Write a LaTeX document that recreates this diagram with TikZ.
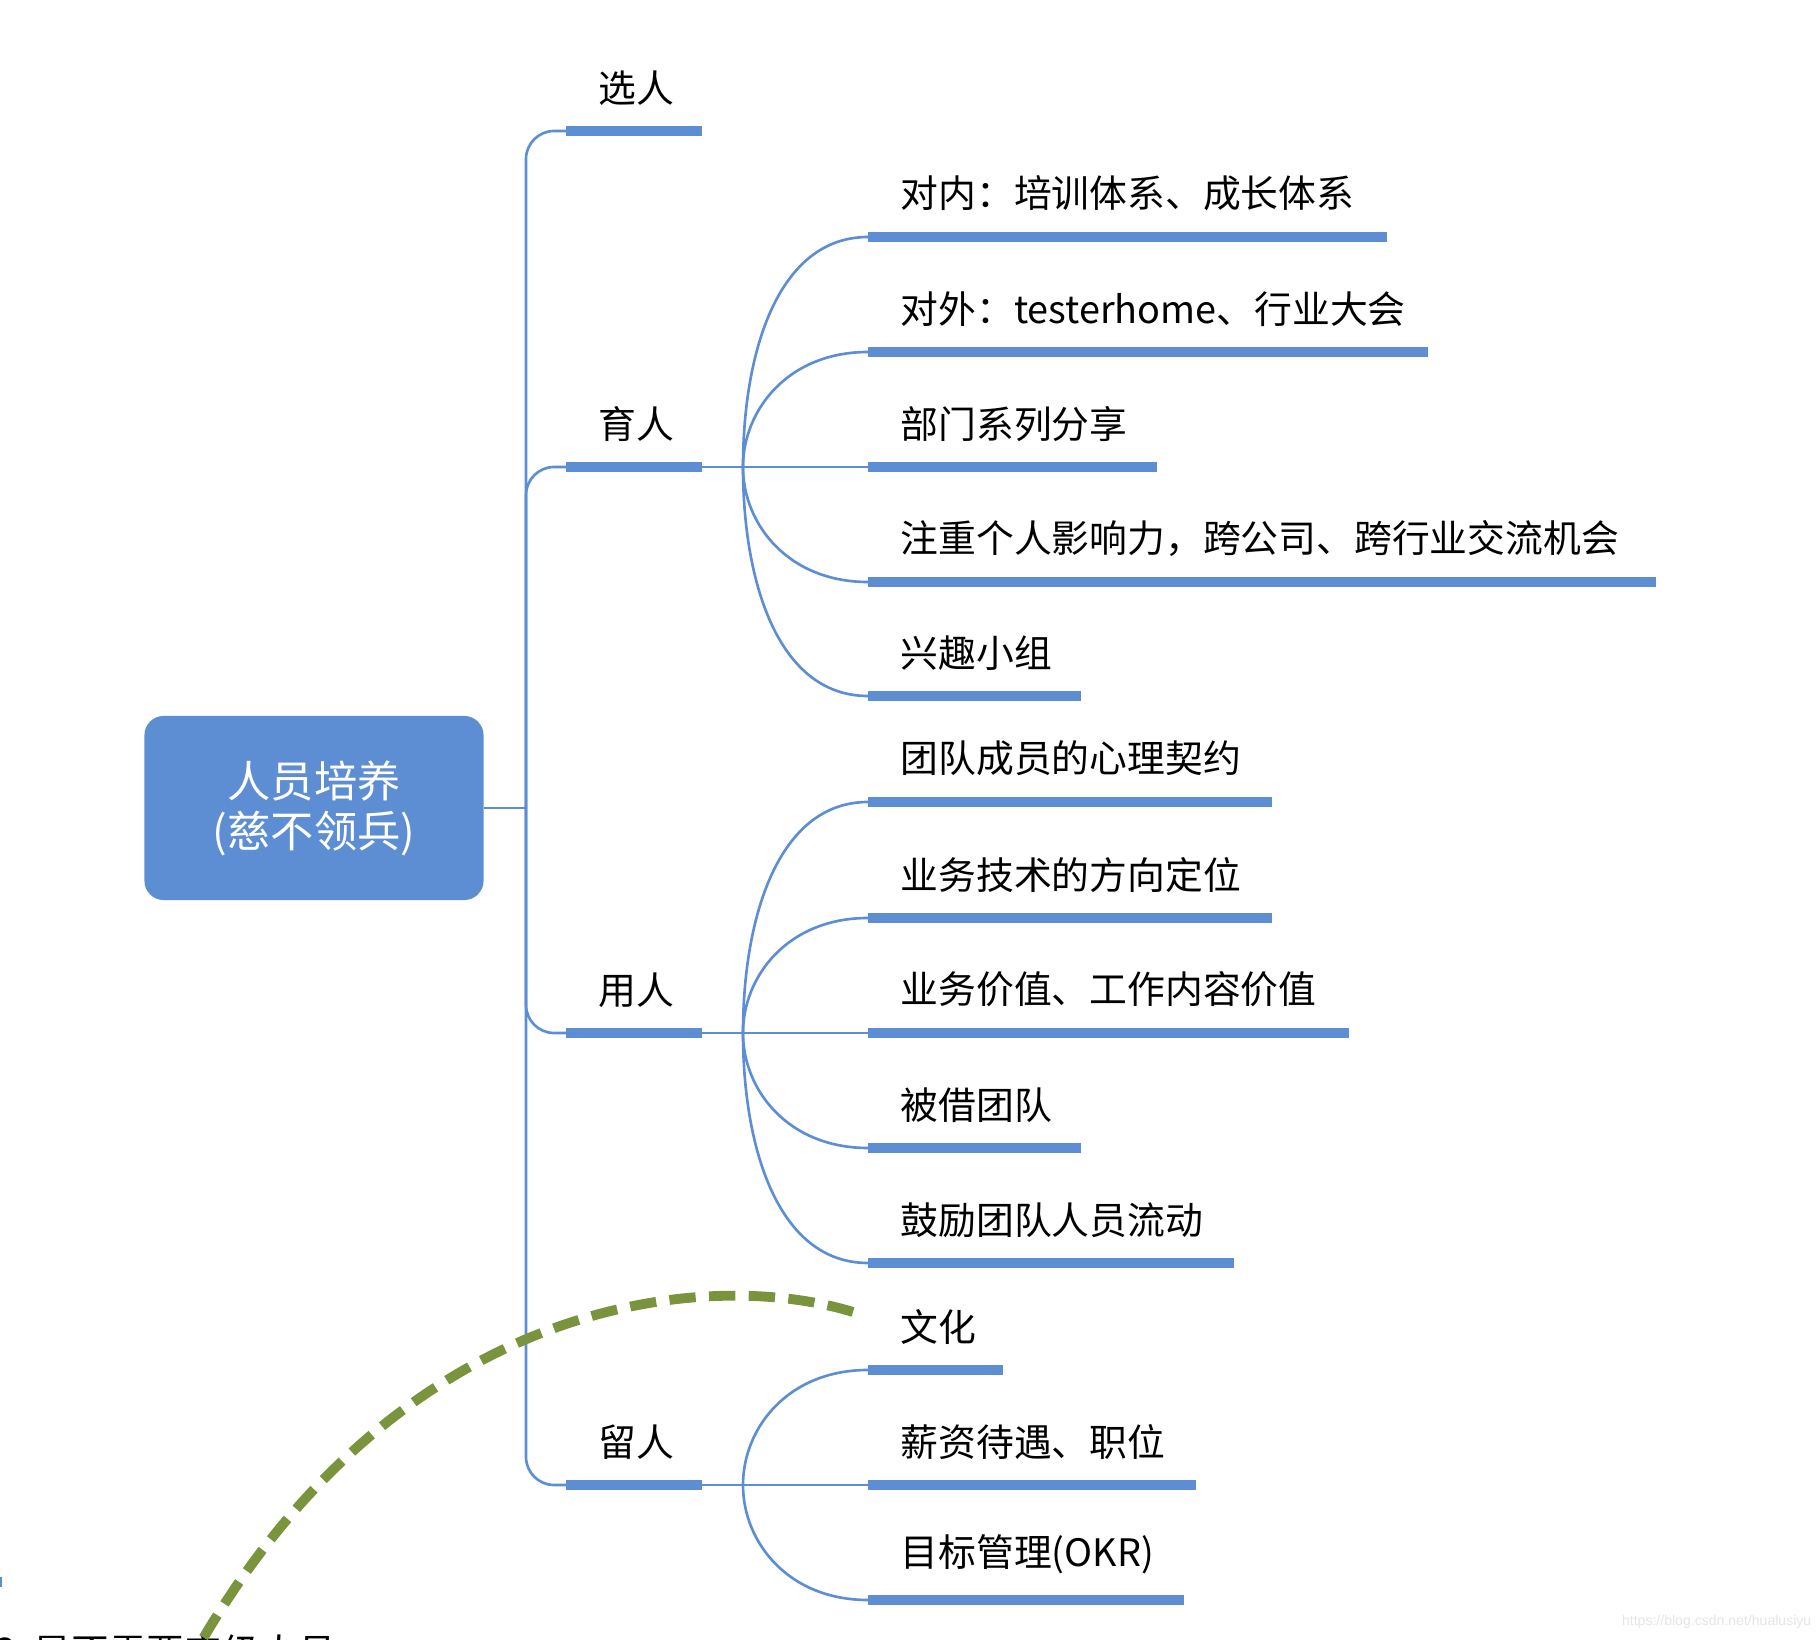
\documentclass[tikz,border=0pt]{standalone}
\usepackage{fontspec}
\setmainfont{Noto Sans CJK SC}
\newfontfamily\wmfont{Liberation Sans}
\usetikzlibrary{positioning,calc}
\definecolor{mapblue}{RGB}{93,142,212}
\definecolor{mapgreen}{RGB}{122,148,62}

\begin{document}
\begin{tikzpicture}[
  x=0.01cm, y=-0.01cm,
  root/.style={rectangle, rounded corners=5.5pt, fill=mapblue, text=white, minimum width=3.39cm, minimum height=1.84cm, align=center, font=\fontsize{12.3pt}{14.2pt}\selectfont},
  topic/.style={inner sep=0pt, font=\fontsize{10.75pt}{13pt}\selectfont},
  leaf/.style={inner sep=0pt, font=\fontsize{10.75pt}{13pt}\selectfont},
  uline/.style={draw=mapblue, line width=2.7pt},
  link/.style={draw=mapblue, line width=0.75pt},
  dashlink/.style={draw=mapgreen, line width=2.8pt, dash pattern=on 7.5pt off 3.8pt}
]
  \useasboundingbox (0,0) rectangle (1820,1640);
  \clip (0,0) rectangle (1820,1640);

  % root and trunk
  \node[root] (root) at (314,808) {人员培养\\(慈不领兵)};
  \coordinate (trunk) at (526,808);
  \draw[link] (root.east) -- (trunk);

  % level 1
  \coordinate (xs) at (566,131);  \coordinate (xe) at (702,131);
  \coordinate (ys) at (566,467);  \coordinate (ye) at (702,467);
  \coordinate (us) at (566,1033); \coordinate (ue) at (702,1033);
  \coordinate (ls) at (566,1485); \coordinate (le) at (702,1485);
  \node[topic, above right=0.25cm and 0.32cm of xs] (xuan) {选人};
  \node[topic, above right=0.25cm and 0.32cm of ys] (yu) {育人};
  \node[topic, above right=0.25cm and 0.32cm of us] (yong) {用人};
  \node[topic, above right=0.25cm and 0.32cm of ls] (liu) {留人};
  \foreach \s/\e in {xs/xe, ys/ye, us/ue, ls/le}
    \draw[uline] (\s) -- (\e);
  \draw[link, rounded corners=8pt] (trunk) |- (xs);
  \draw[link, rounded corners=8pt] (trunk) |- (ys);
  \draw[link, rounded corners=8pt] (trunk) |- (us);
  \draw[link, rounded corners=8pt] (trunk) |- (ls);

  % 育人
  \coordinate (fy) at (743,467);
  \coordinate (a1) at (868,237);  \coordinate (b1) at (1387,237);
  \coordinate (a2) at (868,352);  \coordinate (b2) at (1428,352);
  \coordinate (a3) at (868,467);  \coordinate (b3) at (1157,467);
  \coordinate (a4) at (868,582);  \coordinate (b4) at (1656,582);
  \coordinate (a5) at (868,696);  \coordinate (b5) at (1081,696);
  \node[leaf, above right=0.25cm and 0.32cm of a1] (y1) {对内：培训体系、成长体系};
  \node[leaf, above right=0.25cm and 0.32cm of a2] (y2) {对外：testerhome、行业大会};
  \node[leaf, above right=0.25cm and 0.32cm of a3] (y3) {部门系列分享};
  \node[leaf, above right=0.25cm and 0.32cm of a4] (y4) {注重个人影响力，跨公司、跨行业交流机会};
  \node[leaf, above right=0.25cm and 0.32cm of a5] (y5) {兴趣小组};
  \draw[link] (ye) -- (a3);
  \draw[link] (fy) .. controls +(0,-115) and +(-90,0) .. (a1);
  \draw[link] (fy) .. controls +(0,-57) and +(-80,0) .. (a2);
  \draw[link] (fy) .. controls +(0,57) and +(-80,0) .. (a4);
  \draw[link] (fy) .. controls +(0,115) and +(-90,0) .. (a5);

  % 用人
  \coordinate (fu) at (743,1033);
  \coordinate (c1) at (868,802);  \coordinate (d1) at (1272,802);
  \coordinate (c2) at (868,918);  \coordinate (d2) at (1272,918);
  \coordinate (c3) at (868,1033); \coordinate (d3) at (1349,1033);
  \coordinate (c4) at (868,1148); \coordinate (d4) at (1081,1148);
  \coordinate (c5) at (868,1263); \coordinate (d5) at (1234,1263);
  \node[leaf, above right=0.25cm and 0.32cm of c1] (u1) {团队成员的心理契约};
  \node[leaf, above right=0.25cm and 0.32cm of c2] (u2) {业务技术的方向定位};
  \node[leaf, above right=0.25cm and 0.32cm of c3] (u3) {业务价值、工作内容价值};
  \node[leaf, above right=0.25cm and 0.32cm of c4] (u4) {被借团队};
  \node[leaf, above right=0.25cm and 0.32cm of c5] (u5) {鼓励团队人员流动};
  \draw[link] (ue) -- (c3);
  \draw[link] (fu) .. controls +(0,-115) and +(-90,0) .. (c1);
  \draw[link] (fu) .. controls +(0,-57) and +(-80,0) .. (c2);
  \draw[link] (fu) .. controls +(0,57) and +(-80,0) .. (c4);
  \draw[link] (fu) .. controls +(0,115) and +(-90,0) .. (c5);

  % 留人
  \coordinate (fl) at (743,1485);
  \coordinate (g1) at (868,1370); \coordinate (h1) at (1003,1370);
  \coordinate (g2) at (868,1485); \coordinate (h2) at (1196,1485);
  \coordinate (g3) at (868,1600); \coordinate (h3) at (1184,1600);
  \node[leaf, above right=0.25cm and 0.32cm of g1] (l1) {文化};
  \node[leaf, above right=0.25cm and 0.32cm of g2] (l2) {薪资待遇、职位};
  \node[leaf, above right=0.25cm and 0.32cm of g3] (l3) {目标管理(OKR)};
  \draw[link] (le) -- (g2);
  \draw[link] (fl) .. controls +(0,-57) and +(-80,0) .. (g1);
  \draw[link] (fl) .. controls +(0,57) and +(-80,0) .. (g3);

  \foreach \s/\e in {a1/b1, a2/b2, a3/b3, a4/b4, a5/b5, c1/d1, c2/d2, c3/d3, c4/d4, c5/d5, g1/h1, g2/h2, g3/h3}
    \draw[uline] (\s) -- (\e);

  % cut-off parts at the lower left
  \coordinate (fa) at (-30,1582); \coordinate (fb) at (2,1582);
  \draw[uline] (fa) -- (fb);
  \node[leaf, anchor=west] (note) at (-5,1652) {？是否需要定级人员};
  \coordinate (cul) at (853,1312);
  \coordinate (dashend) at (180,1680);
  \draw[dashlink] (cul) .. controls (700,1265) and (380,1300) .. (dashend);

  \node[inner sep=0pt, anchor=east, text=black!10, font=\wmfont\fontsize{4pt}{5pt}\selectfont] (wm) at (1812,1622) {https://blog.csdn.net/hualusiyu};
\end{tikzpicture}
\end{document}
